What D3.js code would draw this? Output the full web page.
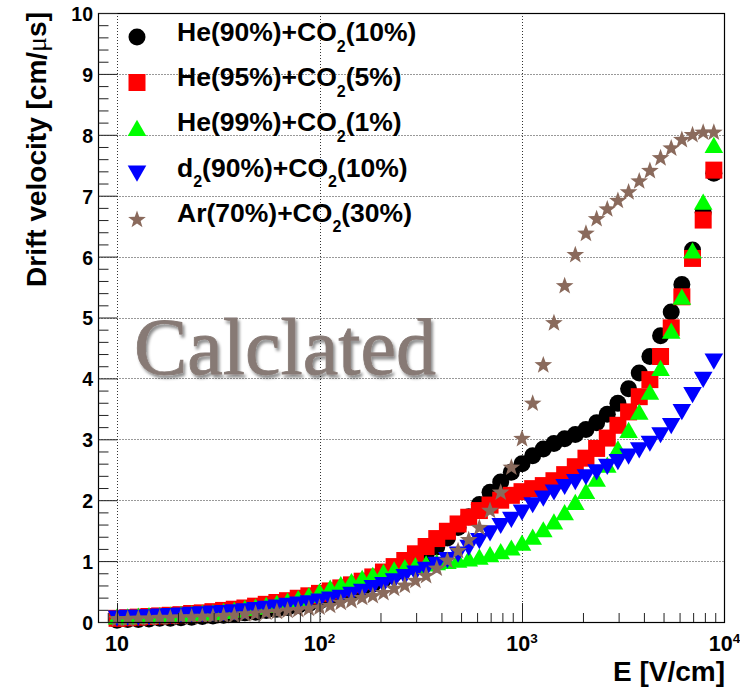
<!DOCTYPE html>
<html>
<head>
<meta charset="utf-8">
<script src="https://cdn.jsdelivr.net/npm/d3@7"></script>
<style>
  body { margin: 0; background: #fff; }
  svg text { font-family: "Liberation Sans", Arial, Helvetica, sans-serif; font-weight: bold; fill: #000; }
</style>
</head>
<body>
<svg id="chart" width="740" height="690"></svg>
<script>
// Electric field grid [V/cm]
const fieldE = [10.0, 11.29, 12.74, 14.38, 16.24, 18.33, 20.69, 23.36, 26.37, 29.76,
  33.60, 37.93, 42.81, 48.33, 54.56, 61.58, 69.52, 78.48, 88.59, 100.0,
  112.9, 127.4, 143.8, 162.4, 183.3, 206.9, 233.6, 263.7, 297.6, 336.0,
  379.3, 428.1, 483.3, 545.6, 615.8, 695.2, 784.8, 885.9, 1000, 1129,
  1274, 1438, 1624, 1833, 2069, 2336, 2637, 2976, 3360, 3793,
  4281, 4833, 5456, 6158, 6952, 7848, 8859];

// Drift velocities [cm/us]
const he90co2 = [0.03, 0.04, 0.04, 0.05, 0.06, 0.06, 0.07, 0.08, 0.09, 0.10,
  0.11, 0.13, 0.15, 0.16, 0.19, 0.21, 0.24, 0.27, 0.30, 0.34,
  0.38, 0.43, 0.49, 0.55, 0.62, 0.70, 0.79, 0.90, 1.00, 1.10,
  1.23, 1.38, 1.55, 1.73, 1.93, 2.13, 2.30, 2.46, 2.60, 2.73,
  2.84, 2.93, 3.01, 3.08, 3.16, 3.27, 3.41, 3.59, 3.83, 4.09,
  4.36, 4.70, 5.09, 5.54, 6.11, 6.73, 7.37];
const he95co2 = [0.06, 0.07, 0.08, 0.09, 0.10, 0.11, 0.12, 0.14, 0.15, 0.17,
  0.19, 0.21, 0.23, 0.26, 0.29, 0.32, 0.35, 0.39, 0.43, 0.47,
  0.51, 0.56, 0.61, 0.67, 0.74, 0.82, 0.91, 1.01, 1.12, 1.24,
  1.37, 1.49, 1.61, 1.72, 1.83, 1.92, 2.00, 2.08, 2.14, 2.19,
  2.24, 2.32, 2.42, 2.55, 2.69, 2.85, 3.02, 3.23, 3.45, 3.70,
  3.98, 4.36, 4.83, 5.34, 5.97, 6.60, 7.42];
const he99co2 = [0.09, 0.09, 0.10, 0.11, 0.11, 0.12, 0.13, 0.14, 0.15, 0.16,
  0.18, 0.20, 0.23, 0.25, 0.28, 0.31, 0.35, 0.39, 0.44, 0.50,
  0.56, 0.62, 0.67, 0.72, 0.77, 0.82, 0.86, 0.90, 0.93, 0.96,
  0.98, 1.00, 1.02, 1.04, 1.07, 1.11, 1.16, 1.22, 1.30, 1.40,
  1.52, 1.65, 1.80, 1.97, 2.15, 2.35, 2.58, 2.85, 3.15, 3.45,
  3.78, 4.17, 4.78, 5.34, 6.10, 6.90, 7.83];
const d2co2 = [0.06, 0.07, 0.07, 0.08, 0.09, 0.10, 0.11, 0.12, 0.13, 0.14,
  0.15, 0.16, 0.18, 0.20, 0.22, 0.24, 0.27, 0.29, 0.31, 0.34,
  0.37, 0.40, 0.45, 0.50, 0.56, 0.61, 0.67, 0.74, 0.80, 0.86,
  0.94, 1.02, 1.11, 1.22, 1.33, 1.46, 1.58, 1.68, 1.80, 1.92,
  2.03, 2.13, 2.22, 2.30, 2.38, 2.46, 2.55, 2.63, 2.72, 2.82,
  2.93, 3.07, 3.22, 3.45, 3.73, 3.98, 4.28];
const ar70co2 = [0.06, 0.06, 0.07, 0.07, 0.08, 0.08, 0.09, 0.09, 0.10, 0.10,
  0.11, 0.12, 0.14, 0.15, 0.17, 0.18, 0.20, 0.21, 0.23, 0.25,
  0.28, 0.33, 0.36, 0.41, 0.44, 0.49, 0.56, 0.61, 0.69, 0.77,
  0.89, 1.02, 1.18, 1.36, 1.56, 1.84, 2.14, 2.55, 3.02, 3.60,
  4.23, 4.92, 5.53, 6.04, 6.39, 6.63, 6.79, 6.93, 7.07, 7.25,
  7.42, 7.63, 7.79, 7.93, 8.01, 8.05, 8.05];

// Legend entries: text pieces, "sub" marks a subscript
const seriesNames = [
  [["He(90%)+CO"], ["2", "sub"], ["(10%)"]],
  [["He(95%)+CO"], ["2", "sub"], ["(5%)"]],
  [["He(99%)+CO"], ["2", "sub"], ["(1%)"]],
  [["d"], ["2", "sub"], ["(90%)+CO"], ["2", "sub"], ["(10%)"]],
  [["Ar(70%)+CO"], ["2", "sub"], ["(30%)"]]
];
const seriesValues = [he90co2, he95co2, he99co2, d2co2, ar70co2];
const seriesColors = ["#000000", "#ff0000", "#00ff00", "#0000ff", "#8a6a5c"];
const seriesMarkers = ["circle", "square", "triangleUp", "triangleDown", "star"];

// Axis ticks and labels
const yTickValues = [0, 1, 2, 3, 4, 5, 6, 7, 8, 9, 10];
const yGridValues = [1, 2, 3, 4, 5, 6, 7, 8, 9];
const xGridValues = [10, 100, 1000];
const xTickLabels = [["10", ""], ["10", "2"], ["10", "3"], ["10", "4"]];
const xTickLabelValues = [10, 100, 1000, 10000];

const svg = d3.select("#chart");
const frame = { left: 98.5, right: 724.5, top: 13, bottom: 622 };

const x = d3.scaleLog().domain([8.1, 10000]).range([frame.left, frame.right]);
const y = d3.scaleLinear().domain([0, 10]).range([frame.bottom, frame.top]);

// marker shapes
function markerPath(kind) {
  if (kind === "circle") return d3.arc()({ innerRadius: 0, outerRadius: 8.5, startAngle: 0, endAngle: 2 * Math.PI });
  if (kind === "square") return "M-8.5,-8.5H8.5V8.5H-8.5Z";
  if (kind === "triangleUp") return "M0,-8.3L9.3,7.9L-9.3,7.9Z";
  if (kind === "triangleDown") return "M-9.3,-7.9L9.3,-7.9L0,8.3Z";
  const pts = [];
  for (let k = 0; k < 10; k++) {
    const r = k % 2 === 0 ? 9.3 : 3.8;
    const a = -Math.PI / 2 + k * Math.PI / 5;
    pts.push([r * Math.cos(a), r * Math.sin(a) + 0.8]);
  }
  return "M" + pts.map(p => p[0].toFixed(2) + "," + p[1].toFixed(2)).join("L") + "Z";
}

// grid
const grid = svg.append("g")
  .attr("stroke", "#333").attr("stroke-width", 1).attr("stroke-dasharray", "1,2");
grid.selectAll("line.gx").data(xGridValues).join("line")
  .attr("x1", d => Math.round(x(d)) + 0.5).attr("x2", d => Math.round(x(d)) + 0.5)
  .attr("y1", frame.top).attr("y2", frame.bottom);
grid.selectAll("line.gy").data(yGridValues).join("line")
  .attr("x1", frame.left).attr("x2", frame.right)
  .attr("y1", d => Math.round(y(d)) + 0.5).attr("y2", d => Math.round(y(d)) + 0.5);

// watermark
const defs = svg.append("defs");
const f = defs.append("filter").attr("id", "shade").attr("x", "-10%").attr("y", "-20%").attr("width", "120%").attr("height", "150%");
f.append("feDropShadow").attr("dx", 2).attr("dy", 3).attr("stdDeviation", 1.6)
  .attr("flood-color", "#000").attr("flood-opacity", 0.45);
svg.append("text")
  .attr("x", 134).attr("y", 374)
  .style("font-family", "'Liberation Serif', 'DejaVu Serif', serif")
  .style("font-weight", "normal")
  .style("font-size", "80px")
  .style("fill", "#877a75")
  .style("stroke", "#877a75").style("stroke-width", "0.8px")
  .attr("filter", "url(#shade)")
  .text("Calclated");

// data markers
seriesValues.forEach((vals, s) => {
  svg.append("g").attr("fill", seriesColors[s])
    .selectAll("path").data(fieldE.map((e, i) => [e, vals[i]])).join("path")
    .attr("d", markerPath(seriesMarkers[s]))
    .attr("transform", d => `translate(${x(d[0])},${y(d[1])})`);
});

// frame
svg.append("rect")
  .attr("x", frame.left).attr("y", frame.top + 0.5)
  .attr("width", frame.right - frame.left).attr("height", frame.bottom - frame.top)
  .attr("fill", "none").attr("stroke", "#000").attr("stroke-width", 1.2);

// y axis ticks (inward)
const yMinor = d3.range(0, 10.001, 0.2).filter(v => Math.abs(v - Math.round(v)) > 1e-6);
const yMajorAxis = svg.append("g").attr("transform", `translate(${frame.left},0)`)
  .call(d3.axisRight(y).tickValues(yTickValues).tickSize(19).tickFormat(""));
const yMinorAxis = svg.append("g").attr("transform", `translate(${frame.left},0)`)
  .call(d3.axisRight(y).tickValues(yMinor).tickSize(10).tickFormat(""));
const yLabelAxis = svg.append("g").attr("transform", `translate(${frame.left},0)`)
  .call(d3.axisLeft(y).tickValues(yTickValues).tickSize(0).tickPadding(5.5).tickFormat(d3.format("d")));

// x axis ticks (inward)
const xMinor = [];
[1, 10, 100, 1000].forEach(dec => { for (let m = 2; m <= 9; m++) { const v = m * dec; if (v > 8.1 && v < 10000) xMinor.push(v); } });
const xMajorAxis = svg.append("g").attr("transform", `translate(0,${frame.bottom})`)
  .call(d3.axisTop(x).tickValues(xGridValues).tickSize(19).tickFormat(""));
const xMinorAxis = svg.append("g").attr("transform", `translate(0,${frame.bottom})`)
  .call(d3.axisTop(x).tickValues(xMinor).tickSize(9).tickFormat(""));

[yMajorAxis, yMinorAxis, yLabelAxis, xMajorAxis, xMinorAxis].forEach(g => {
  g.select(".domain").remove();
  g.selectAll(".tick line").attr("stroke", "#222").attr("stroke-width", 1);
});
yLabelAxis.selectAll(".tick text")
  .style("font-size", "19.5px").attr("dy", "0.38em")
  .style("font-family", "'Liberation Sans', Arial, sans-serif").style("font-weight", "bold").attr("fill", "#000");

// x tick labels with exponents
xTickLabels.forEach((lab, i) => {
  const t = svg.append("text")
    .attr("x", x(xTickLabelValues[i])).attr("y", 651)
    .attr("text-anchor", "middle")
    .style("font-size", "21.5px");
  t.append("tspan").text(lab[0]);
  if (lab[1]) t.append("tspan").attr("dy", -8).style("font-size", "13.5px").text(lab[1]);
});

// axis titles
svg.append("text")
  .attr("x", 725).attr("y", 681).attr("text-anchor", "end")
  .style("font-size", "28px").text("E [V/cm]");
const yt = svg.append("text")
  .attr("transform", "translate(46,12) rotate(-90)")
  .attr("text-anchor", "end")
  .style("font-size", "28px");
yt.append("tspan").text("Drift velocity [cm/");
yt.append("tspan").style("font-family", "'Liberation Serif', serif").style("font-weight", "normal").text("μ");
yt.append("tspan").text("s]");

// legend
const legend = svg.append("g");
seriesNames.forEach((parts, k) => {
  const my = 37 + 45.5 * k;
  legend.append("path")
    .attr("d", markerPath(seriesMarkers[k]))
    .attr("fill", seriesColors[k])
    .attr("transform", `translate(137,${my})`);
  const t = legend.append("text")
    .attr("x", 177).attr("y", 41 + 45.2 * k)
    .style("font-size", "26.5px");
  let shifted = false;
  parts.forEach(p => {
    const ts = t.append("tspan").text(p[0]);
    if (p[1] === "sub") { ts.attr("dy", 10.5).style("font-size", "16px"); shifted = true; }
    else if (shifted) { ts.attr("dy", -10.5); shifted = false; }
  });
});
</script>
</body>
</html>
